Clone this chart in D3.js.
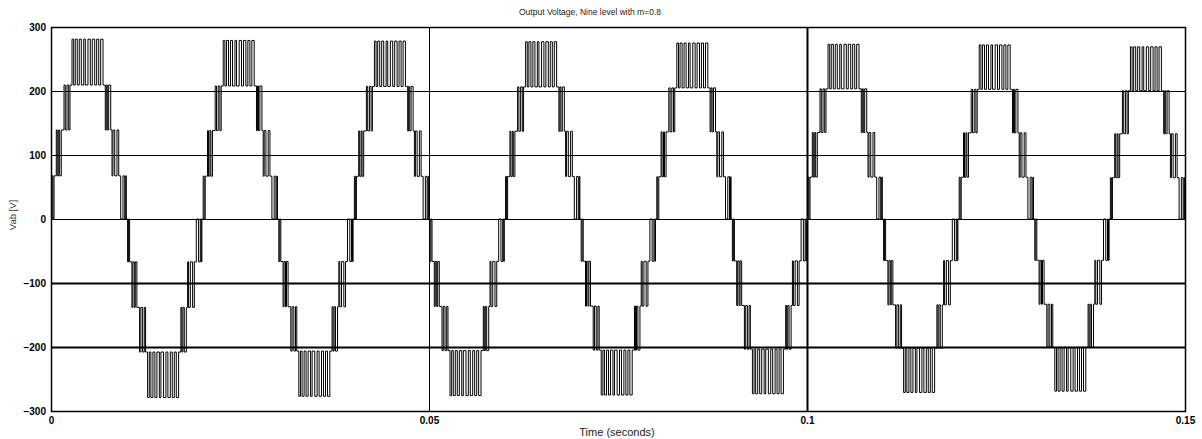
<!DOCTYPE html>
<html>
<head>
<meta charset="utf-8">
<script src="https://cdn.jsdelivr.net/npm/d3@7"></script>
<style>
  body { margin: 0; background: #fff; }
  svg { display: block; font-family: Arial, "Liberation Sans", sans-serif; }
</style>
</head>
<body>
<div id="chart"></div>
<script>
const width = 1202;
const height = 439;

// Axis ticks
const xTicks = [0, 0.05, 0.1, 0.15];
const yTicks = [-300, -200, -100, 0, 100, 200, 300];
const xGrid = [0.05, 0.1];
const yGrid = [-200, -100, 0, 100, 200];

// Start of each half cycle (s) and its peak voltage (sign = polarity)
const halfCycleStart = [0, 0.01, 0.02, 0.03, 0.04, 0.05, 0.06, 0.07, 0.08, 0.09, 0.10, 0.11, 0.12, 0.13, 0.14];
const halfCyclePeak = [281, -279, 279, -277, 278, -276, 277, -275, 275, -273, 273, -271, 272, -269, 269];

// Output level as fraction of the peak (nine level: 0..4 each side)
const levelFraction = [0, 0.24, 0.495, 0.745, 1];

// Switching edges of one half cycle: [time from half-cycle start (ms), level after edge]
const edgeMs = [0, 0.13, 0.26, 0.40, 0.70, 0.83, 1.02, 1.15, 1.36, 1.72, 1.89, 2.12, 2.34, 2.51,
  2.78, 3.00, 3.21, 3.48, 3.74, 4.01, 4.33, 4.54, 4.89, 5.20, 5.46, 5.78, 6.04, 6.31, 6.57, 6.88,
  7.18, 7.31, 7.45, 7.63, 7.90, 8.07, 8.20, 8.43, 8.73, 8.96, 9.22, 9.52, 9.75, 9.88, 9.96];
const edgeLevel = [0, 1, 0, 1, 2, 1, 2, 1, 2, 3, 2, 3, 2, 3,
  4, 3, 4, 3, 4, 3, 4, 3, 4, 3, 4, 3, 4, 3, 4, 3,
  2, 3, 2, 3, 2, 1, 2, 1, 2, 1, 0, 1, 0, 1, 0];

const plotLeft = 51;
const plotRight = 1185;
const plotTop = 27;
const plotBottom = 411;

const x = d3.scaleLinear().domain([0, 0.15]).range([plotLeft, plotRight]);
const y = d3.scaleLinear().domain([-300, 300]).range([plotBottom, plotTop]);

const svg = d3.select('#chart').append('svg')
  .attr('width', width)
  .attr('height', height);

// grid
svg.append('g')
  .selectAll('line')
  .data(yGrid)
  .enter().append('line')
    .attr('x1', plotLeft)
    .attr('x2', plotRight)
    .attr('y1', d => Math.round(y(d)) + 0.5)
    .attr('y2', d => Math.round(y(d)) + 0.5)
    .attr('stroke', '#000')
    .attr('stroke-width', d => d < 0 ? 2 : 1);

svg.append('g')
  .selectAll('line')
  .data(xGrid)
  .enter().append('line')
    .attr('x1', d => Math.round(x(d)) + 0.5)
    .attr('x2', d => Math.round(x(d)) + 0.5)
    .attr('y1', plotTop)
    .attr('y2', plotBottom)
    .attr('stroke', '#000')
    .attr('stroke-width', d => d === 0.1 ? 2 : 1);

// waveform
const points = [];
halfCycleStart.forEach(function (start, i) {
  const peak = halfCyclePeak[i];
  edgeMs.forEach(function (ms, j) {
    points.push([start + ms / 1000, peak * levelFraction[edgeLevel[j]]]);
  });
});
points.push([0.15, 0]);

const line = d3.line()
  .x(d => x(d[0]))
  .y(d => y(d[1]))
  .curve(d3.curveStepAfter);

svg.append('path')
  .datum(points)
  .attr('fill', 'none')
  .attr('stroke', '#000')
  .attr('stroke-width', 1)
  .attr('d', line);

// frame
svg.append('rect')
  .attr('x', plotLeft + 0.5)
  .attr('y', plotTop + 0.5)
  .attr('width', plotRight - plotLeft)
  .attr('height', plotBottom - plotTop)
  .attr('fill', 'none')
  .attr('stroke', '#000')
  .attr('stroke-width', 1.5);

// axes
const yAxis = d3.axisLeft(y)
  .tickValues(yTicks)
  .tickSize(0)
  .tickPadding(5)
  .tickFormat(d3.format('d'));

const xAxis = d3.axisBottom(x)
  .tickValues(xTicks)
  .tickSize(0)
  .tickPadding(6)
  .tickFormat(d => d === 0 ? '0' : String(+d.toFixed(2)));

svg.append('g')
  .attr('transform', `translate(${plotLeft}, 0)`)
  .call(yAxis)
  .call(g => g.select('.domain').remove())
  .selectAll('text')
    .attr('font-size', 10)
    .attr('font-weight', 'bold')
    .attr('fill', '#000')
    .attr('font-family', 'Arial, "Liberation Sans", sans-serif');

svg.append('g')
  .attr('transform', `translate(0, ${plotBottom})`)
  .call(xAxis)
  .call(g => g.select('.domain').remove())
  .selectAll('text')
    .attr('font-size', 10)
    .attr('font-weight', 'bold')
    .attr('fill', '#000')
    .attr('font-family', 'Arial, "Liberation Sans", sans-serif');

// labels
svg.append('text')
  .attr('x', 590)
  .attr('y', 15)
  .attr('text-anchor', 'middle')
  .attr('font-size', 8.5)
  .attr('fill', '#222')
  .text('Output Voltage, Nine level with m=0.8');

svg.append('text')
  .attr('x', 617)
  .attr('y', 436)
  .attr('text-anchor', 'middle')
  .attr('font-size', 11)
  .attr('fill', '#222')
  .text('Time (seconds)');

svg.append('text')
  .attr('transform', 'translate(16, 215) rotate(-90)')
  .attr('text-anchor', 'middle')
  .attr('font-size', 9.5)
  .attr('fill', '#333')
  .text('Vab [V]');
</script>
</body>
</html>
